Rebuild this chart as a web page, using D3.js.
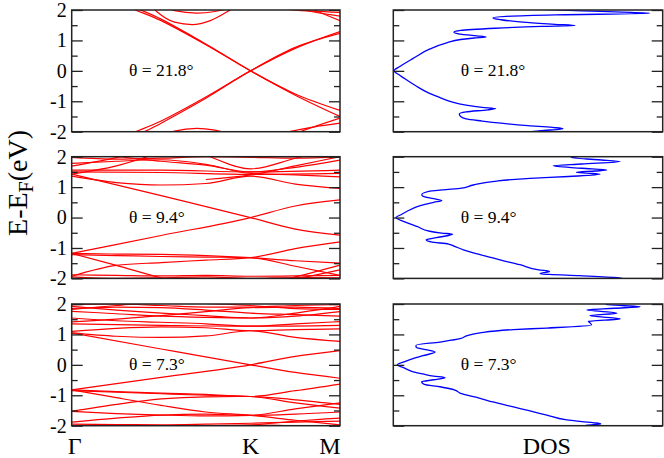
<!DOCTYPE html>
<html>
<head>
<meta charset="utf-8">
<script src="https://cdn.jsdelivr.net/npm/d3@7"></script>
<style>
body { margin: 0; background: #fff; }
svg { display: block; font-family: "Liberation Serif", "Times New Roman", serif; }
</style>
</head>
<body>
<script>
// k path: Γ = 0, K = 2, M = 3
const kPoints = [0, 2, 3];
const kLabels = ['Γ', 'K', 'M'];
const eTicks = [-2, -1, 0, 1, 2];
const eMinor = [-1.5, -0.5, 0.5, 1.5];
const angleLabels = ['θ = 21.8°', 'θ = 9.4°', 'θ = 7.3°'];

// bands: lists of [k, E]
const bands21 = [
    [[0, 3.4], [0.5, 2.3], [1, 1.65], [1.5, 0.86], [2, 0], [2.5, -0.76], [3, -1.3]],
    [[0, 3.6], [0.5, 2.4], [1, 1.7], [1.5, 0.88], [2, 0], [2.5, -0.8], [3, -1.5]],
    [[0, -3.4], [0.5, -2.3], [1, -1.65], [1.5, -0.86], [2, 0], [2.5, 0.74], [3, 1.29]],
    [[0, -3.6], [0.5, -2.5], [1, -1.72], [1.5, -0.9], [2, 0], [2.5, 0.77], [3, 1.23]],
    [[0.75, 2.6], [0.95, 1.95], [1.15, 1.6], [1.35, 1.52], [1.55, 1.65], [1.8, 2.05], [2, 2.4]],
    [[1, 2.3], [1.15, 1.98], [1.4, 1.9], [1.6, 1.95], [1.8, 2.1]],
    [[1, -2.3], [1.15, -1.98], [1.4, -1.89], [1.6, -1.95], [1.8, -2.1]],
    [[2, 2.5], [2.4, 2.03], [2.7, 1.96], [3, 1.92]],
    [[2.2, 2.4], [2.6, 2.0], [3, 1.8]],
    [[2.4, 2.4], [2.75, 1.95], [3, 1.65]],
    [[2, -2.5], [2.4, -2.03], [2.7, -1.85], [3, -1.72]],
    [[2.2, -2.4], [2.55, -2.0], [3, -1.55]]
];

const bands94 = [
    [[0, 1.43], [1, 0.72], [2, 0], [2.5, -0.38], [3, -0.58]],
    [[0, -1.18], [1, -0.59], [2, 0], [2.5, 0.38], [3, 0.58]],
    [[0, 1.36], [0.5, 1.15], [1, 1.07], [1.5, 1.12], [2, 1.36], [2.5, 1.1], [3, 0.96]],
    [[0, 1.43], [0.5, 1.7], [1, 2.15]],
    [[0, 1.69], [0.5, 1.97], [1, 2.3]],
    [[0, 2.3], [0.5, 2.02], [1, 1.85], [1.5, 1.72], [2, 1.5], [2.5, 1.65], [3, 1.89]],
    [[0, 1.56], [1, 1.56], [2, 1.5], [3, 1.56]],
    [[0, 1.5], [1, 1.48], [2, 1.42], [3, 1.45]],
    [[0, 1.78], [0.5, 1.85], [1, 1.9], [1.5, 1.75], [2, 1.45], [2.5, 1.4], [3, 1.34]],
    [[1, 2.6], [1.5, 2.05], [2, 1.6], [2.5, 1.95], [3, 2.3]],
    [[0, 1.98], [0.5, 1.92], [1, 1.95], [1.5, 2.0], [2, 1.98], [2.5, 1.95], [3, 2.0]],
    [[1.5, 1.25], [2, 1.4], [2.5, 1.7], [3, 2.0]],
    [[0, -1.18], [0.5, -1.2], [1, -1.21], [1.5, -1.25], [2, -1.32], [2.5, -1.42], [3, -1.5]],
    [[0, -1.22], [0.5, -1.25], [1, -1.28], [1.5, -1.3], [2, -1.32], [2.5, -1.6], [3, -1.9]],
    [[0, -1.18], [0.5, -1.57], [1, -1.98], [1.5, -2.3]],
    [[0, -1.93], [0.5, -1.57], [1, -1.48], [1.5, -1.4], [2, -1.32], [2.5, -1.02], [3, -0.8]],
    [[0, -1.88], [0.5, -1.9], [1, -1.92], [1.5, -1.9], [2, -1.93], [2.5, -1.92], [3, -1.9]],
    [[0, -1.95], [0.5, -2.0], [1, -1.98], [1.5, -1.95], [2, -2.0], [2.5, -1.97], [3, -1.98]],
    [[2, -2.3], [2.5, -1.95], [3, -1.56]],
    [[2, -2.1], [2.5, -2.0], [3, -1.72]]
];

const bands73 = [
    [[0, 1.05], [1, 0.52], [2, 0], [2.5, -0.25], [3, -0.44]],
    [[0, -0.82], [1, -0.41], [2, 0], [2.5, 0.28], [3, 0.47]],
    [[0, 1.05], [0.5, 0.94], [1, 0.9], [1.5, 0.95], [2, 1.12], [2.5, 0.9], [3, 0.77]],
    [[0, 1.1], [0.5, 1.2], [1, 1.25], [1.5, 1.22], [2, 1.12], [2.5, 1.16], [3, 1.18]],
    [[0, 1.35], [1, 1.3], [2, 1.27], [3, 1.3]],
    [[0, 1.41], [0.5, 1.5], [1, 1.62], [1.5, 1.75], [2, 1.88], [2.5, 1.9], [3, 1.85]],
    [[0, 1.54], [0.5, 1.45], [1, 1.4], [1.5, 1.35], [2, 1.27], [2.5, 1.35], [3, 1.42]],
    [[0, 1.76], [0.5, 1.68], [1, 1.6], [1.5, 1.56], [2, 1.54], [2.5, 1.6], [3, 1.75]],
    [[0, 1.85], [0.5, 1.9], [1, 1.88], [1.5, 1.8], [2, 1.7], [2.5, 1.65], [3, 1.6]],
    [[0, 1.92], [0.5, 1.8], [1, 1.7], [1.5, 1.62], [2, 1.54], [2.5, 1.7], [3, 1.92]],
    [[0, 1.97], [0.5, 2.0], [1, 1.95], [1.5, 1.9], [2, 1.9], [2.5, 1.95], [3, 1.98]],
    [[0, 1.82], [0.5, 1.95], [1, 2.05], [1.5, 2.02], [2, 1.95], [2.5, 1.85], [3, 1.82]],
    [[0, -0.82], [0.5, -0.88], [1, -0.93], [1.5, -0.97], [2, -1.04], [2.5, -0.85], [3, -0.63]],
    [[0, -0.85], [0.5, -0.9], [1, -0.95], [1.5, -1.0], [2, -1.04], [2.5, -1.25], [3, -1.42]],
    [[0, -0.82], [0.5, -1.08], [1, -1.33], [1.5, -1.55], [2, -1.66], [2.5, -1.82], [3, -1.97]],
    [[0, -1.53], [0.5, -1.3], [1, -1.12], [1.5, -1.05], [2, -1.04], [2.5, -1.15], [3, -1.3]],
    [[0, -1.53], [0.5, -1.6], [1, -1.65], [1.5, -1.68], [2, -1.66], [2.5, -1.45], [3, -1.25]],
    [[0, -1.88], [0.5, -1.75], [1, -1.65], [1.5, -1.62], [2, -1.66], [2.5, -1.62], [3, -1.55]],
    [[0, -1.95], [0.5, -1.96], [1, -1.97], [1.5, -1.95], [2, -1.92], [2.5, -1.88], [3, -1.85]],
    [[0, -2.0], [0.5, -1.98], [1, -2.02], [1.5, -2.0], [2, -1.97], [2.5, -2.0], [3, -2.02]],
    [[1.5, -2.3], [2, -2.0], [2.5, -1.85], [3, -1.75]]
];

// DOS: lists of [E, DOS] (DOS in arbitrary units, panel width = 1)
const dos21 = [
    [-2.05, 0.45], [-2.0, 0.5], [-1.96, 0.56], [-1.9, 0.63], [-1.86, 0.59], [-1.8, 0.5],
    [-1.72, 0.4], [-1.65, 0.33], [-1.58, 0.27], [-1.5, 0.25], [-1.42, 0.245], [-1.35, 0.27],
    [-1.28, 0.35], [-1.24, 0.38], [-1.2, 0.33], [-1.13, 0.27], [-1.0, 0.21], [-0.85, 0.165],
    [-0.7, 0.125], [-0.5, 0.085], [-0.3, 0.05], [-0.15, 0.025], [0, 0.003],
    [0.15, 0.026], [0.4, 0.072], [0.72, 0.136], [0.92, 0.198], [1.03, 0.25], [1.08, 0.3],
    [1.11, 0.344], [1.15, 0.31], [1.2, 0.255], [1.27, 0.225], [1.33, 0.25], [1.4, 0.38],
    [1.46, 0.55], [1.49, 0.674], [1.53, 0.6], [1.6, 0.48], [1.68, 0.4], [1.74, 0.37],
    [1.79, 0.42], [1.84, 0.6], [1.89, 0.953], [1.93, 0.85], [1.97, 0.7], [2.02, 0.55]
];

const dos94 = [
    [-2.03, 0.86], [-1.97, 0.82], [-1.91, 0.69], [-1.87, 0.58], [-1.85, 0.545], [-1.8, 0.565],
    [-1.77, 0.58], [-1.72, 0.54], [-1.55, 0.47], [-1.39, 0.396], [-1.22, 0.322], [-1.06, 0.26],
    [-0.95, 0.228], [-0.87, 0.205], [-0.8, 0.14], [-0.73, 0.122], [-0.66, 0.16], [-0.59, 0.205],
    [-0.55, 0.22], [-0.51, 0.18], [-0.45, 0.135], [-0.3, 0.09], [-0.15, 0.045], [0, 0.01],
    [0.1, 0.03], [0.2, 0.05], [0.39, 0.1], [0.5, 0.15], [0.56, 0.18], [0.62, 0.15], [0.7, 0.11],
    [0.76, 0.106], [0.87, 0.136], [0.96, 0.248], [1.07, 0.297], [1.2, 0.384], [1.29, 0.507],
    [1.35, 0.65], [1.42, 0.767], [1.46, 0.72], [1.49, 0.68], [1.53, 0.75], [1.56, 0.792],
    [1.62, 0.7], [1.7, 0.594], [1.76, 0.7], [1.84, 0.842], [1.9, 0.76], [1.97, 0.66], [2.03, 0.72]
];

const dos73 = [
    [-2.03, 0.7], [-1.98, 0.72], [-1.94, 0.77], [-1.9, 0.74], [-1.81, 0.644], [-1.65, 0.57],
    [-1.5, 0.5], [-1.38, 0.446], [-1.22, 0.37], [-1.1, 0.322], [-0.94, 0.25], [-0.83, 0.229],
    [-0.72, 0.173], [-0.64, 0.115], [-0.56, 0.105], [-0.49, 0.15], [-0.42, 0.192], [-0.37, 0.15],
    [-0.3, 0.11], [-0.23, 0.074], [-0.1, 0.04], [0, 0.015],
    [0.1, 0.04], [0.17, 0.062], [0.3, 0.11], [0.42, 0.155], [0.5, 0.12], [0.58, 0.085],
    [0.64, 0.084], [0.75, 0.173], [0.86, 0.248], [0.96, 0.275], [1.05, 0.322], [1.16, 0.446],
    [1.21, 0.57], [1.31, 0.736], [1.38, 0.73], [1.43, 0.724], [1.51, 0.842], [1.57, 0.78],
    [1.62, 0.73], [1.7, 0.83], [1.76, 0.77], [1.81, 0.718], [1.86, 0.82], [1.91, 0.916],
    [1.95, 0.85], [1.98, 0.79], [2.03, 0.8]
];

const rows = [
    { bands: bands21, dos: dos21, label: angleLabels[0] },
    { bands: bands94, dos: dos94, label: angleLabels[1] },
    { bands: bands73, dos: dos73, label: angleLabels[2] }
];

const width = 664;
const height = 458;
const rowTops = [10, 156.7, 304];
const rowH = 121.7;

const svg = d3.select('body').append('svg').
    attr('width', width).
    attr('height', height);

const x = d3.scaleLinear().domain([0, 3]).range([71.7, 340]);
const xd = d3.scaleLinear().domain([0, 1]).range([393.3, 662.7]);

const frameColor = '#222';

const drawFrame = (g, xs, y, withLabels) => {
    const [x0, x1] = xs.range();

    const styleAxis = (a) => {
        a.select('.domain').remove();
        a.selectAll('line').attr('stroke', frameColor).attr('stroke-width', 1.3);
        a.selectAll('text').
            attr('font-family', '"Liberation Serif", "Times New Roman", serif').
            attr('font-size', 20).
            attr('fill', '#000');
    };

    g.append('g').
        attr('transform', `translate(${x0},0)`).
        call(d3.axisLeft(y).tickValues(eTicks).tickSize(-11).tickPadding(5).
            tickFormat(withLabels ? (d) => String(d) : () => '')).
        call(styleAxis);
    g.append('g').
        attr('transform', `translate(${x0},0)`).
        call(d3.axisLeft(y).tickValues(eMinor).tickSize(-6).tickFormat(() => '')).
        call(styleAxis);
    g.append('g').
        attr('transform', `translate(${x1},0)`).
        call(d3.axisRight(y).tickValues(eTicks).tickSize(-11).tickFormat(() => '')).
        call(styleAxis);
    g.append('g').
        attr('transform', `translate(${x1},0)`).
        call(d3.axisRight(y).tickValues(eMinor).tickSize(-6).tickFormat(() => '')).
        call(styleAxis);

    g.append('rect').
        attr('x', x0).
        attr('y', y(2)).
        attr('width', x1 - x0).
        attr('height', y(-2) - y(2)).
        attr('fill', 'none').
        attr('stroke', frameColor).
        attr('stroke-width', 1.5);
};

rows.forEach((row, i) => {
    const y = d3.scaleLinear().domain([-2, 2]).range([rowTops[i] + rowH, rowTops[i]]);

    // band structure panel
    const gb = svg.append('g');
    gb.append('clipPath').attr('id', `clipb${i}`).append('rect').
        attr('x', x(0)).attr('y', y(2)).
        attr('width', x(3) - x(0)).attr('height', y(-2) - y(2));

    const bandLine = d3.line().
        x((d) => x(d[0])).
        y((d) => y(d[1])).
        curve(d3.curveMonotoneX);

    gb.append('g').attr('clip-path', `url(#clipb${i})`).
        selectAll('path').data(row.bands).enter().append('path').
        attr('d', bandLine).
        attr('fill', 'none').
        attr('stroke', '#ff0000').
        attr('stroke-width', 1.2);

    gb.append('text').
        attr('x', x(0.64)).
        attr('y', y(0) + 5.5).
        attr('font-size', 17.5).
        text(row.label);

    drawFrame(gb, x, y, true);

    // DOS panel
    const gd = svg.append('g');
    gd.append('clipPath').attr('id', `clipd${i}`).append('rect').
        attr('x', xd(0)).attr('y', y(2)).
        attr('width', xd(1) - xd(0)).attr('height', y(-2) - y(2));

    const dosLine = d3.line().
        x((d) => xd(d[1])).
        y((d) => y(d[0])).
        curve(d3.curveMonotoneY);

    gd.append('path').datum(row.dos).
        attr('clip-path', `url(#clipd${i})`).
        attr('d', dosLine).
        attr('fill', 'none').
        attr('stroke', '#0000ff').
        attr('stroke-width', 1.3);

    gd.append('text').
        attr('x', xd(0.25)).
        attr('y', y(0) + 5.5).
        attr('font-size', 17.5).
        text(row.label);

    drawFrame(gd, xd, y, false);
});

// bottom labels
svg.append('g').selectAll('text').data(kPoints).enter().append('text').
    attr('x', (d, i) => x(d) + [3, 0, -10][i]).
    attr('y', 454).
    attr('text-anchor', 'middle').
    attr('font-size', 24).
    text((d, i) => kLabels[i]);

svg.append('text').
    attr('x', xd(0.57)).
    attr('y', 454).
    attr('text-anchor', 'middle').
    attr('font-size', 24).
    text('DOS');

// y axis title
const yTitle = svg.append('text').
    attr('transform', 'translate(27,183) rotate(-90)').
    attr('text-anchor', 'middle').
    attr('font-size', 28);
yTitle.append('tspan').text('E-E');
yTitle.append('tspan').attr('dy', 6).attr('font-size', 20).text('F');
yTitle.append('tspan').attr('dy', -6).text('(eV)');
</script>
</body>
</html>
